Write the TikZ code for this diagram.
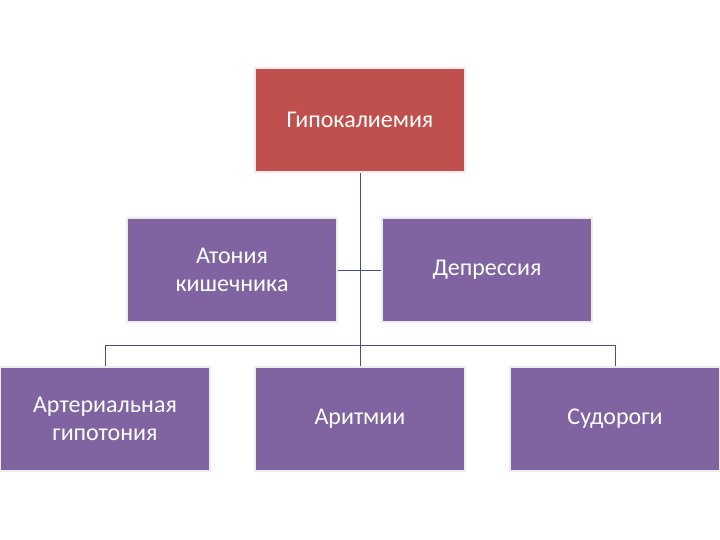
\documentclass[tikz,border=0pt]{standalone}
\usepackage{fontspec}
\setmainfont{Carlito}
\begin{document}
\begin{tikzpicture}[x=1pt,y=-1pt,
  box/.style={draw=white!85!gray,line width=1.5pt,text=white,align=center,font=\fontsize{24}{28}\selectfont,minimum width=210pt,minimum height=104pt,inner sep=0pt},
  conn/.style={draw=black!40!blue!40!gray,line width=1pt}]
\definecolor{red1}{HTML}{C0504D}
\definecolor{purp}{HTML}{8064A2}
\useasboundingbox (0,0) rectangle (720,540);
\node[box,fill=red1] (top) at (360,120) {Гипокалиемия};
\node[box,fill=purp] (at) at (232,270) {Атония\\кишечника};
\node[box,fill=purp] (dep) at (487,270) {Депрессия};
\node[box,fill=purp] (art) at (105,419) {Артериальная\\гипотония};
\node[box,fill=purp] (ari) at (360,419) {Аритмии};
\node[box,fill=purp] (sud) at (615,419) {Судороги};
\coordinate (j) at (360,345);
\draw[conn] (top.south) -- (j);
\draw[conn] (at.east) -- (dep.west);
\draw[conn] (j) -| (art.north);
\draw[conn] (j) -| (sud.north);
\draw[conn] (j) -- (ari.north);
\end{tikzpicture}
\end{document}
